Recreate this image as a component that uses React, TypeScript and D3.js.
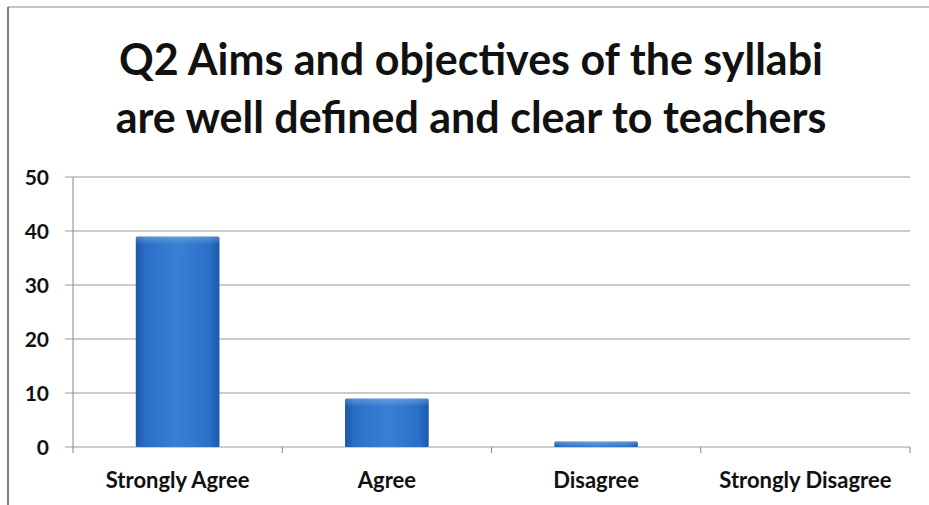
import React from "react";
import * as d3 from "d3";

const categories = ["Strongly Agree", "Agree", "Disagree", "Strongly Disagree"];
const values = [39, 9, 1, 0];
const yTicks = [0, 10, 20, 30, 40, 50];
const titleLines = ["Q2 Aims and objectives of the syllabi", "are well defined and clear to teachers"];

const W = 929;
const H = 505;
const M = { left: 73, right: 910, top: 177, bottom: 447 };

export default function App() {
  const x = d3
    .scaleBand<string>()
    .domain(categories)
    .range([M.left, M.right])
    .paddingInner(0.6)
    .paddingOuter(0.3);
  const y = d3.scaleLinear().domain([0, 50]).range([M.bottom, M.top]);
  const step = x.step();
  const boundaries = d3.range(categories.length + 1).map((i) => M.left + i * step);
  const font = "Lato, 'Open Sans', sans-serif";

  return (
    <svg
      width={W}
      height={H}
      style={{ position: "absolute", left: 0, top: 0, background: "#fff" }}
      fontFamily={font}
    >
      <defs>
        <linearGradient id="barGrad" x1="0" x2="1" y1="0" y2="0">
          <stop offset="0" stopColor="#1b58a8" />
          <stop offset="0.12" stopColor="#2b70c8" />
          <stop offset="0.5" stopColor="#3780d4" />
          <stop offset="0.88" stopColor="#2b70c8" />
          <stop offset="1" stopColor="#1b58a8" />
        </linearGradient>
        <linearGradient id="barTop" x1="0" x2="0" y1="0" y2="1">
          <stop offset="0" stopColor="#ffffff" stopOpacity="0.25" />
          <stop offset="1" stopColor="#ffffff" stopOpacity="0" />
        </linearGradient>
      </defs>
      {/* frame */}
      <line x1={8} x2={W} y1={7} y2={7} stroke="#b0b0b0" strokeWidth={1.5} />
      <line x1={8} x2={8} y1={7} y2={H} stroke="#555" strokeWidth={1.5} />
      {/* title */}
      {titleLines.map((t, i) => (
        <text
          key={i}
          x={471}
          y={75 + i * 58}
          textAnchor="middle"
          fontSize={43}
          fontWeight="bold"
          fill="#111"
        >
          {t}
        </text>
      ))}
      {/* gridlines */}
      {yTicks.map((t) => (
        <g key={t}>
          <line x1={M.left - 8} x2={M.right} y1={y(t)} y2={y(t)} stroke="#999" strokeWidth={1} />
          <text
            x={49}
            y={y(t)}
            dy="0.36em"
            textAnchor="end"
            fontSize={21}
            fontWeight="bold"
            fill="#111"
          >
            {t}
          </text>
        </g>
      ))}
      {/* y axis */}
      <line x1={M.left} x2={M.left} y1={M.top} y2={M.bottom} stroke="#888" strokeWidth={1} />
      {/* x ticks */}
      {boundaries.map((b, i) => (
        <line key={i} x1={b} x2={b} y1={M.bottom} y2={M.bottom + 6} stroke="#888" strokeWidth={1} />
      ))}
      {/* bars */}
      {categories.map((c, i) => {
        const h = y(0) - y(values[i]);
        if (h <= 0) return null;
        return (
          <g key={c}>
            <rect x={x(c)} y={y(values[i])} width={x.bandwidth()} height={h} fill="url(#barGrad)" rx={1.5} />
            <rect x={x(c)} y={y(values[i])} width={x.bandwidth()} height={Math.min(h, 8)} fill="url(#barTop)" />
          </g>
        );
      })}
      {/* x labels */}
      {categories.map((c) => (
        <text
          key={c}
          x={(x(c) as number) + x.bandwidth() / 2}
          y={488}
          textAnchor="middle"
          fontSize={22}
          fontWeight="bold"
          fill="#111"
        >
          {c}
        </text>
      ))}
    </svg>
  );
}
